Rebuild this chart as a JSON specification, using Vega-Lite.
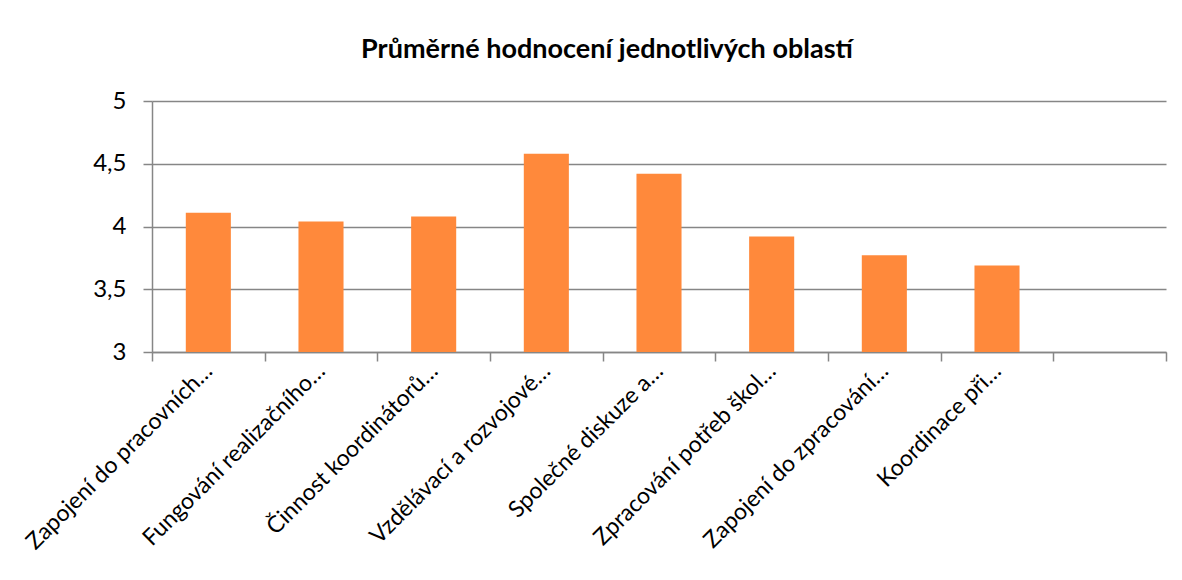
{
  "$schema": "https://vega.github.io/schema/vega-lite/v6.json",
  "autosize": {"type": "none"},
  "padding": {"left": 152, "top": 101, "right": 16, "bottom": 228},
  "width": 1014,
  "height": 251,
  "background": "white",
  "title": {
    "text": "Průměrné hodnocení jednotlivých oblastí",
    "font": "Lato",
    "fontSize": 27,
    "fontWeight": "bold",
    "color": "#000000",
    "anchor": "middle",
    "dx": -52,
    "offset": 25
  },
  "data": {
    "values": [
      {"oblast": "Zapojení do pracovních…", "hodnota": 4.11},
      {"oblast": "Fungování realizačního…", "hodnota": 4.04},
      {"oblast": "Činnost koordinátorů…", "hodnota": 4.08},
      {"oblast": "Vzdělávací a rozvojové…", "hodnota": 4.58},
      {"oblast": "Společné diskuze a…", "hodnota": 4.42},
      {"oblast": "Zpracování potřeb škol…", "hodnota": 3.92},
      {"oblast": "Zapojení do zpracování…", "hodnota": 3.77},
      {"oblast": "Koordinace při…", "hodnota": 3.69},
      {"oblast": " ", "hodnota": null}
    ]
  },
  "config": {
    "view": {"stroke": null},
    "axis": {
      "labelFont": "Lato",
      "labelColor": "#000000",
      "domainColor": "#868686",
      "tickColor": "#868686",
      "gridColor": "#868686",
      "domainWidth": 1.5,
      "tickWidth": 1.5,
      "gridWidth": 1.5
    }
  },
  "mark": {"type": "bar", "color": "#FF893B", "width": {"band": 0.4}},
  "encoding": {
    "x": {
      "field": "oblast",
      "type": "nominal",
      "sort": null,
      "title": null,
      "scale": {
        "domain": ["Zapojení do pracovních…", "Fungování realizačního…", "Činnost koordinátorů…", "Vzdělávací a rozvojové…", "Společné diskuze a…", "Zpracování potřeb škol…", "Zapojení do zpracování…", "Koordinace při…", " "],
        "paddingInner": 0,
        "paddingOuter": 0
      },
      "axis": {
        "labelAngle": -45,
        "labelAlign": "right",
        "labelBaseline": "middle",
        "labelFontSize": 23,
        "labelPadding": 6,
        "labelLimit": 400,
        "tickBand": "extent",
        "tickSize": 9,
        "grid": false
      }
    },
    "y": {
      "field": "hodnota",
      "type": "quantitative",
      "title": null,
      "scale": {"domain": [3, 5], "zero": false, "clamp": true},
      "axis": {
        "values": [3, 3.5, 4, 4.5, 5],
        "labelExpr": "replace(format(datum.value, '.1~f'), '.', ',')",
        "labelFontSize": 24,
        "labelPadding": 17,
        "tickSize": 9,
        "grid": true
      }
    }
  }
}
